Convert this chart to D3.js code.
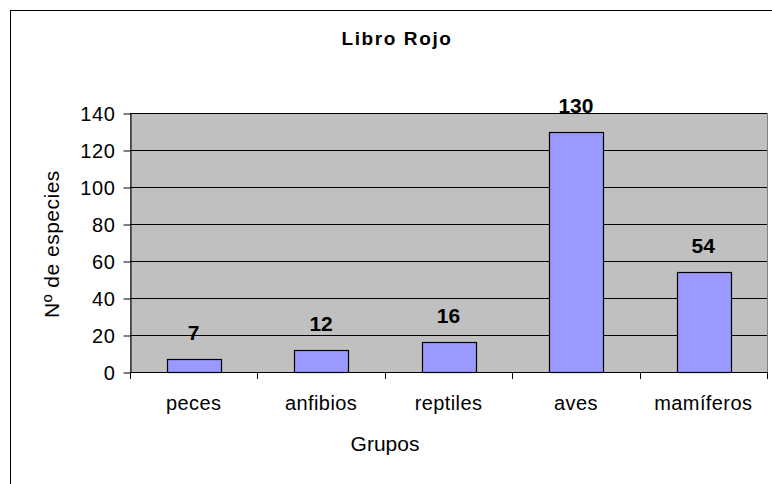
<!DOCTYPE html>
<html>
<head>
<meta charset="utf-8">
<script src="https://cdn.jsdelivr.net/npm/d3@7"></script>
<style>
  body { margin: 0; background: #fff; }
  svg text { font-family: "Liberation Sans", Arial, sans-serif; fill: #000; }
</style>
</head>
<body>
<svg id="chart" width="772" height="484"></svg>
<script>
// data
var grupos = ['peces', 'anfibios', 'reptiles', 'aves', 'mamíferos'];
var especies = [7, 12, 16, 130, 54];
var yTicks = [0, 20, 40, 60, 80, 100, 120, 140];

var svg = d3.select('#chart');
var plot = { left: 130, top: 113, right: 767, bottom: 372 };

// outer chart border (runs off the right and bottom of the window)
svg.append('rect')
  .attr('x', 10.5).attr('y', 10.5)
  .attr('width', 800).attr('height', 500)
  .attr('fill', '#fff').attr('stroke', '#000').attr('stroke-width', 1);

var x = d3.scaleBand()
  .domain(grupos)
  .range([plot.left, plot.right])
  .paddingInner(0.58)
  .paddingOuter(0.29);

var y = d3.scaleLinear()
  .domain([0, 140])
  .range([plot.bottom, plot.top]);

// plot area
svg.append('rect')
  .attr('x', plot.left + 0.5).attr('y', plot.top + 0.5)
  .attr('width', plot.right - plot.left).attr('height', plot.bottom - plot.top)
  .attr('fill', '#c0c0c0').attr('stroke', '#808080').attr('stroke-width', 1);

// gridlines
svg.append('g').selectAll('line')
  .data(yTicks.filter(function(d) { return d > 0; }))
  .enter().append('line')
  .attr('x1', plot.left).attr('x2', plot.right)
  .attr('y1', function(d) { return Math.round(y(d)) + 0.5; })
  .attr('y2', function(d) { return Math.round(y(d)) + 0.5; })
  .attr('stroke', '#000').attr('stroke-width', 1);

// bars
svg.append('g').selectAll('rect')
  .data(especies)
  .enter().append('rect')
  .attr('x', function(d, i) { return Math.round(x(grupos[i])) + 0.5; })
  .attr('y', function(d) { return Math.round(y(d)) + 0.5; })
  .attr('width', function() { return Math.round(x.bandwidth()); })
  .attr('height', function(d) { return Math.round(y(0)) - Math.round(y(d)); })
  .attr('fill', '#9999ff').attr('stroke', '#000').attr('stroke-width', 1.2);

// value labels
svg.append('g').selectAll('text')
  .data(especies)
  .enter().append('text')
  .attr('x', function(d, i) { return x(grupos[i]) + x.bandwidth() / 2; })
  .attr('y', function(d) { return y(d) - 19; })
  .attr('text-anchor', 'middle')
  .style('font-size', '21px').style('font-weight', 'bold')
  .text(function(d) { return d; });

// y axis
var yAxis = svg.append('g')
  .attr('transform', 'translate(' + (plot.left + 0.5) + ',0.5)')
  .call(d3.axisLeft(y).tickValues(yTicks).tickSize(7).tickPadding(8).tickSizeOuter(0));
yAxis.select('.domain').attr('stroke', '#000');
yAxis.selectAll('.tick line').attr('stroke', '#000');
yAxis.selectAll('.tick text')
  .style('font-size', '20px').style('letter-spacing', '0.6px')
  .attr('dy', '0.36em');

// x axis: category labels under bars, ticks at the category boundaries
svg.append('line')
  .attr('x1', plot.left).attr('x2', plot.right + 1)
  .attr('y1', plot.bottom + 0.5).attr('y2', plot.bottom + 0.5)
  .attr('stroke', '#000');

var edges = d3.range(grupos.length + 1).map(function(i) {
  return plot.left + i * x.step();
});
svg.append('g').selectAll('line')
  .data(edges)
  .enter().append('line')
  .attr('x1', function(d) { return Math.round(d) + 0.5; })
  .attr('x2', function(d) { return Math.round(d) + 0.5; })
  .attr('y1', plot.bottom).attr('y2', plot.bottom + 7)
  .attr('stroke', '#000');

svg.append('g').selectAll('text')
  .data(grupos)
  .enter().append('text')
  .attr('x', function(d) { return x(d) + x.bandwidth() / 2; })
  .attr('y', 410)
  .attr('text-anchor', 'middle')
  .style('font-size', '20px').style('letter-spacing', '0.4px')
  .text(function(d) { return d; });

// titles
svg.append('text')
  .attr('x', 397).attr('y', 45)
  .attr('text-anchor', 'middle')
  .style('font-size', '19px').style('font-weight', 'bold').style('letter-spacing', '1.6px')
  .text('Libro Rojo');

svg.append('text')
  .attr('x', 385).attr('y', 451)
  .attr('text-anchor', 'middle')
  .style('font-size', '21px')
  .text('Grupos');

svg.append('text')
  .attr('transform', 'translate(59,244) rotate(-90)')
  .attr('text-anchor', 'middle')
  .style('font-size', '21px').style('letter-spacing', '0.5px')
  .text('Nº de especies');
</script>
</body>
</html>
